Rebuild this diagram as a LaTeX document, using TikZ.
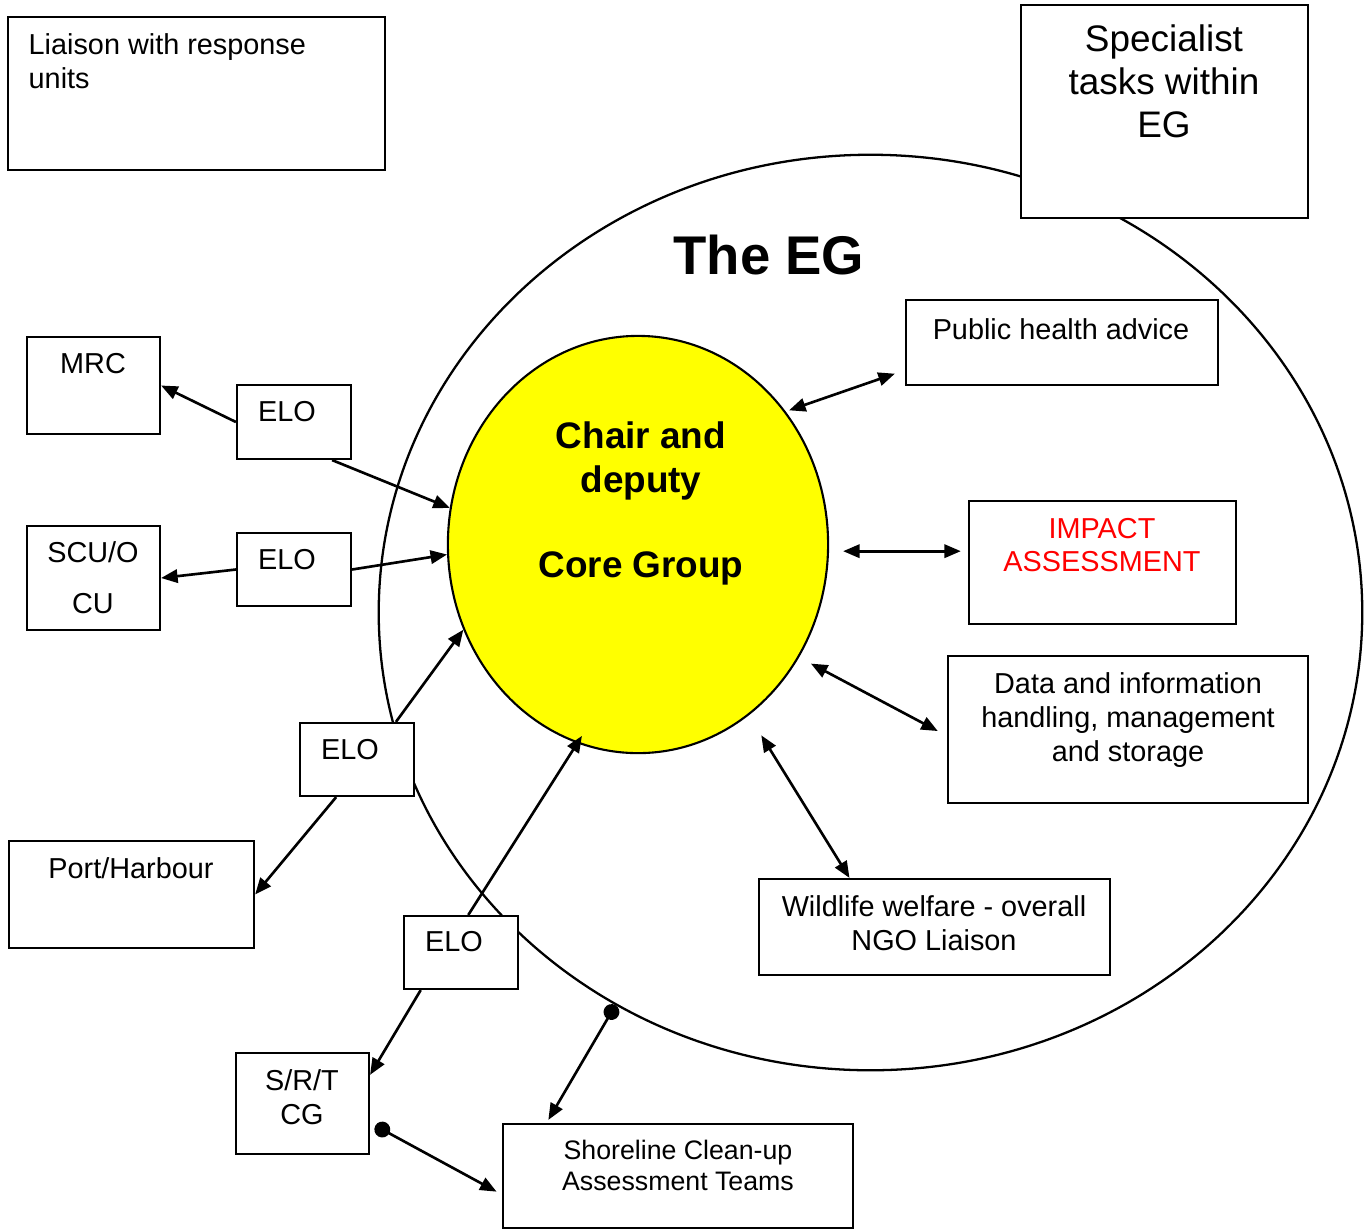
\documentclass[tikz,border=0pt]{standalone}
\usepackage{fontspec}
\setmainfont{Liberation Sans}
\usetikzlibrary{arrows.meta,shapes.geometric}

\definecolor{coreyellow}{RGB}{255,255,0}
\definecolor{alertred}{RGB}{255,0,0}

\tikzset{
  box/.style={draw, line width=0.6pt, fill=white, inner sep=0pt},
  lbl/.style={font=\fontsize{8.2}{9.6}\selectfont, align=center, inner sep=0pt},
  link/.style={line width=0.75pt, -{Triangle[length=4.7pt,width=3.8pt]}},
  twoway/.style={line width=0.75pt, {Triangle[length=4.7pt,width=3.8pt]}-{Triangle[length=4.7pt,width=3.8pt]}},
  dotlink/.style={line width=0.75pt, {Circle[length=4.5pt]}-{Triangle[length=4.7pt,width=3.8pt]}}
}

\begin{document}
\begin{tikzpicture}[x=0.01cm, y=-0.01cm]
\useasboundingbox (0,0) rectangle (1365,1229);

% the EG and its core
\node[ellipse, draw, line width=0.65pt, minimum width=98.3mm, minimum height=91.5mm, inner sep=0pt] (eg) at (870.5,612.5) {};
\node[ellipse, draw, line width=0.6pt, fill=coreyellow, minimum width=38mm, minimum height=41.7mm, inner sep=0pt] (core) at (638,544.5) {};
\node[font=\fontsize{15.5}{18}\selectfont\bfseries, inner sep=0pt] (egtitle) at (769,255) {The EG};
\node[lbl, font=\fontsize{10.5}{12.5}\selectfont\bfseries] (chair) at (641,461) {Chair and\\deputy};
\node[lbl, font=\fontsize{10.5}{12.5}\selectfont\bfseries] (coregroup) at (641,568) {Core Group};

% boxes
\node[box, minimum width=37.7mm, minimum height=15.3mm] (liaison) at (196.5,93.5) {};
\node[lbl, align=left, anchor=west] (liaisontxt) at (28,61.5) {Liaison with response\\units};
\node[box, minimum width=28.7mm, minimum height=21.3mm] (spec) at (1164.5,111.5) {};
\node[lbl, font=\fontsize{10.5}{12.2}\selectfont] (spectxt) at (1164,81) {Specialist\\tasks within\\EG};

\node[box, minimum width=13.3mm, minimum height=9.7mm] (mrc) at (93.5,385.5) {};
\node[lbl] (mrctxt) at (93,364) {MRC};
\node[box, minimum width=13.3mm, minimum height=10.4mm] (scu) at (93.5,578) {};
\node[lbl, font=\fontsize{8.2}{14.5}\selectfont] (scutxt) at (93,577.5) {SCU/O\\CU};
\node[box, minimum width=24.5mm, minimum height=10.7mm] (port) at (131.5,894.5) {};
\node[lbl] (porttxt) at (131,868) {Port/Harbour};
\node[box, minimum width=13.3mm, minimum height=10.1mm] (srt) at (302.5,1103.5) {};
\node[lbl] (srttxt) at (302,1097) {S/R/T\\CG};

\node[box, minimum width=11.4mm, minimum height=7.4mm] (elo1) at (294,422) {};
\node[lbl] (elo1txt) at (287,412) {ELO};
\node[box, minimum width=11.4mm, minimum height=7.3mm] (elo2) at (294,569.5) {};
\node[lbl] (elo2txt) at (287,560) {ELO};
\node[box, minimum width=11.4mm, minimum height=7.3mm] (elo3) at (357,759.5) {};
\node[lbl] (elo3txt) at (350,750) {ELO};
\node[box, minimum width=11.4mm, minimum height=7.3mm] (elo4) at (461,952.5) {};
\node[lbl] (elo4txt) at (454,942) {ELO};

\node[box, minimum width=31.2mm, minimum height=8.5mm] (pha) at (1062,342.5) {};
\node[lbl] (phatxt) at (1061,329) {Public health advice};
\node[box, minimum width=26.7mm, minimum height=12.3mm] (impact) at (1102.5,562.5) {};
\node[lbl, text=alertred] (impacttxt) at (1102,545) {IMPACT\\ASSESSMENT};
\node[box, minimum width=36mm, minimum height=14.7mm] (data) at (1128,729.5) {};
\node[lbl] (datatxt) at (1128,720) {Data and information\\handling, management\\and storage};
\node[box, minimum width=35.1mm, minimum height=9.6mm] (wild) at (934.5,927) {};
\node[lbl] (wildtxt) at (934,923) {Wildlife welfare - overall\\NGO Liaison};
\node[box, minimum width=35mm, minimum height=10.4mm] (shore) at (678,1176) {};
\node[lbl, font=\fontsize{7.6}{8.8}\selectfont] (shoretxt) at (678,1165.5) {Shoreline Clean-up\\Assessment Teams};

% liaison arrows
\draw[link] (elo1.west) -- (mrc.east);
\draw[link] (elo1.-45) -- (core.169);
\draw[link] (elo2.west) -- (scu.east);
\draw[link] (elo2.east) -- (core.183.4);
\draw[link] (elo3.44) -- (core.206.8);
\draw[link] (elo3.-119) -- (port.east);
\draw[link, shorten >=-2.5pt] (elo4.79) -- (core.253.4);
\draw[link] (elo4.-137) -- (srt.23);

% specialist tasks
\draw[twoway, shorten <=1pt, shorten >=3pt] (core.42.7) -- (pha.190);
\draw[twoway, shorten <=4pt, shorten >=2pt] (core.-2) -- (core.-2 -| impact.west);
\draw[twoway, shorten <=3.8pt, shorten >=2.9pt] (core.-35) -- (data.182.4);
\draw[twoway, shorten <=6.7pt] (core.-57.4) -- (wild.150);

% shoreline teams
\draw[dotlink, shorten >=1pt] (eg.-123) -- (shore.158);
\draw[dotlink, shorten <=1.7pt, shorten >=1.7pt] (srt.-16.5) -- (shore.186);
\end{tikzpicture}
\end{document}
